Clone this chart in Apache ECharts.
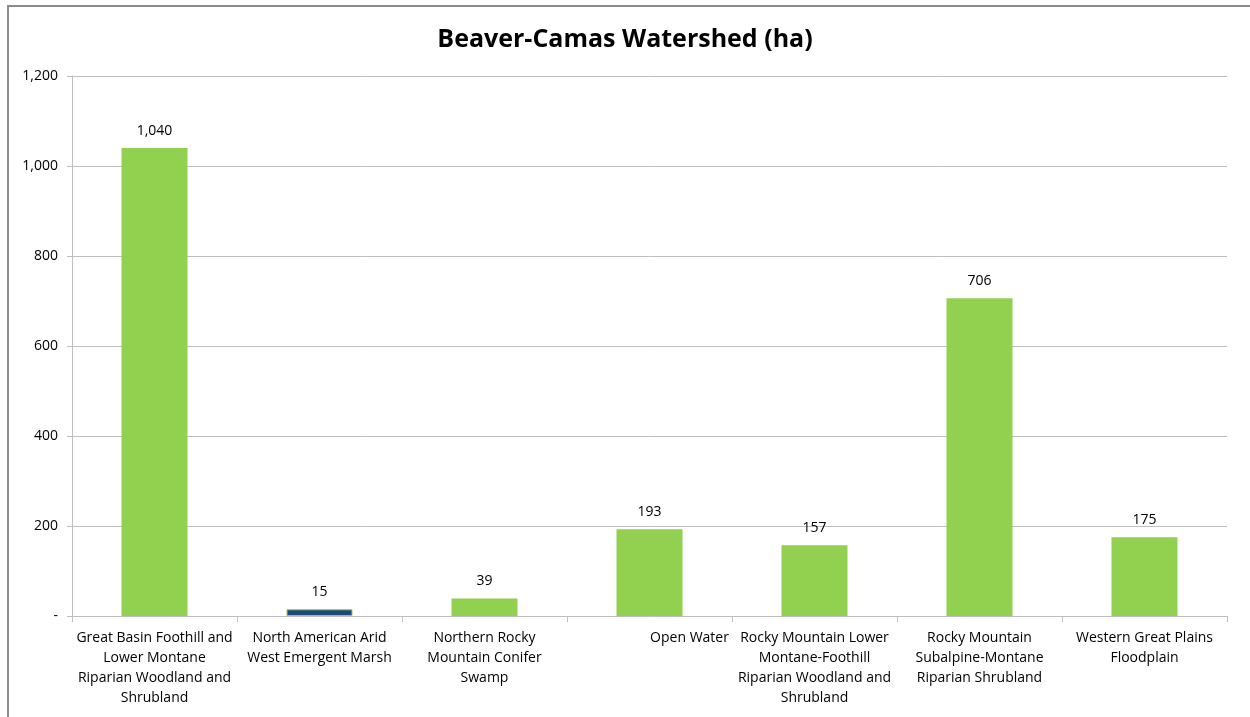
<!DOCTYPE html>
<html>
<head>
<meta charset="utf-8">
<script src="https://cdn.jsdelivr.net/npm/echarts@6/dist/echarts.min.js"></script>
<style>
  html, body { margin: 0; padding: 0; background: #fff; }
  #frame {
    position: absolute; left: 7px; top: 5px; width: 1250px; height: 720px;
    border-left: 2px solid #8c8c8c; border-top: 2px solid #8c8c8c;
    pointer-events: none; z-index: 2;
  }
  #watershedChart { width: 1250px; height: 717px; }
</style>
</head>
<body>
<div id="frame"></div>
<div id="watershedChart"></div>
<script>
// category names and hectares
const habitats = [
  "Great Basin Foothill and Lower Montane Riparian Woodland and Shrubland",
  "North American Arid West Emergent Marsh",
  "Northern Rocky Mountain Conifer Swamp",
  "Open Water",
  "Rocky Mountain Lower Montane-Foothill Riparian Woodland and Shrubland",
  "Rocky Mountain Subalpine-Montane Riparian Shrubland",
  "Western Great Plains Floodplain",
];
// tick labels as they wrap in the picture
const tickLabels = [
  "Great Basin Foothill and\nLower Montane\nRiparian Woodland and\nShrubland",
  "North American Arid\nWest Emergent Marsh",
  "Northern Rocky\nMountain Conifer\nSwamp",
  "Open Water",
  "Rocky Mountain Lower\nMontane-Foothill\nRiparian Woodland and\nShrubland",
  "Rocky Mountain\nSubalpine-Montane\nRiparian Shrubland",
  "Western Great Plains\nFloodplain",
];
const hectares = [1040, 15, 39, 193, 157, 706, 175];
const yTicks = [0, 200, 400, 600, 800, 1000, 1200];

const fmt = (v) => (v === 0 ? "-" : v.toLocaleString("en-US"));

function renderChart() {
  const bars = hectares.map((v, i) =>
    i === 1
      ? { value: v, itemStyle: { color: "#1F497D", borderColor: "#92D050", borderWidth: 1 } }
      : v
  );

  const options = {
    animation: false,
    textStyle: { fontFamily: "Open Sans", color: "#000" },
    title: {
      text: "Beaver-Camas Watershed (ha)",
      left: "center",
      top: 22,
      textStyle: { fontFamily: "Open Sans", fontSize: 25, fontWeight: "bold", color: "#000" },
    },
    grid: { left: 72, right: 23, top: 76, bottom: 101 },
    xAxis: {
      type: "category",
      data: habitats,
      axisLine: { lineStyle: { color: "#bfbfbf" } },
      axisTick: { show: true, length: 6, lineStyle: { color: "#bfbfbf" } },
      axisLabel: {
        interval: 0,
        color: "#000",
        fontSize: 14,
        lineHeight: 20,
        margin: 12,
        formatter: (v, i) =>
          v === "Open Water" ? "{ow|" + tickLabels[i] + "}" : tickLabels[i],
        rich: { ow: { fontSize: 14, color: "#000", padding: [0, 0, 0, 80] } },
      },
    },
    yAxis: {
      type: "value",
      min: 0,
      max: yTicks[yTicks.length - 1],
      interval: 200,
      axisLine: { show: true, lineStyle: { color: "#bfbfbf" } },
      axisTick: { show: true, length: 5, lineStyle: { color: "#bfbfbf" } },
      splitLine: { lineStyle: { color: "#bfbfbf" } },
      axisLabel: { color: "#000", fontSize: 14, margin: 14, formatter: fmt },
    },
    series: [
      {
        type: "bar",
        data: bars,
        barWidth: "40%",
        itemStyle: { color: "#92D050" },
        label: {
          show: true,
          position: "top",
          distance: 10,
          color: "#000",
          fontSize: 14,
          formatter: (p) => fmt(p.value),
        },
      },
    ],
  };

  const chart = echarts.init(document.querySelector("#watershedChart"));
  chart.setOption(options);
}

document.addEventListener("DOMContentLoaded", renderChart);
</script>
</body>
</html>
